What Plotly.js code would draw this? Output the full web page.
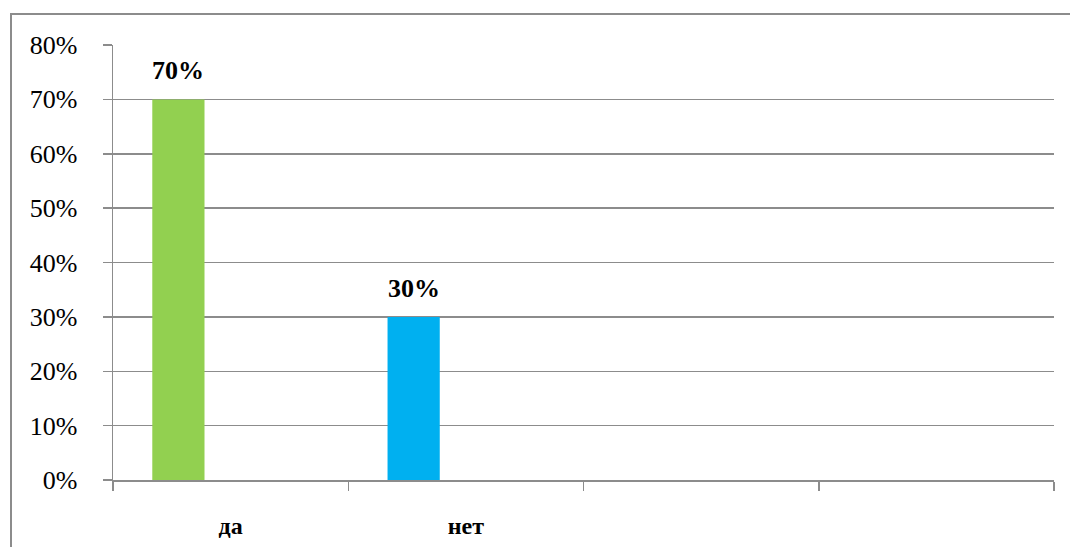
<!DOCTYPE html>
<html>
<head>
<meta charset="utf-8">
<script src="https://cdn.plot.ly/plotly-3.0.1.min.js"></script>
<style>
html,body{margin:0;padding:0;background:#fff;}
#chart{width:1070px;height:547px;}
</style>
</head>
<body>
<div id="chart"></div>
<script>
const categories = ["да", "нет", " ", "  "];
const barCategories = ["да", "нет"];
const values = [0.70, 0.30];
const barColors = ["#92D050", "#00B0F0"];
const yTickVals = [0, 0.1, 0.2, 0.3, 0.4, 0.5, 0.6, 0.7, 0.8];
const yTickText = ["0%", "10%", "20%", "30%", "40%", "50%", "60%", "70%", "80%"];

const fontFam = "'Liberation Serif', 'Times New Roman', serif";
const barOffset = -0.333;
const barWidth = 0.222;

const trace = {
  type: "bar",
  x: barCategories,
  y: values,
  marker: {color: barColors, line: {width: 0}},
  offset: barOffset,
  width: barWidth,
  hoverinfo: "skip"
};

// Invisible trace to register all categories
const dummy = {
  type: "scatter",
  x: categories,
  y: categories.map(() => null),
  mode: "markers",
  showlegend: false,
  hoverinfo: "skip"
};

const annotations = barCategories.map((c, i) => ({
  x: c,
  y: values[i],
  xref: "x",
  yref: "y",
  text: "<b>" + Math.round(values[i] * 100) + "%</b>",
  showarrow: false,
  xshift: (barOffset + barWidth / 2) * 235.25,
  yanchor: "bottom",
  yshift: 12,
  font: {family: fontFam, size: 26, color: "#000"}
}));

const layout = {
  width: 1070,
  height: 547,
  margin: {l: 113, r: 16, t: 45, b: 67},
  paper_bgcolor: "#fff",
  plot_bgcolor: "#fff",
  showlegend: false,
  font: {family: fontFam, color: "#000"},
  xaxis: {
    type: "category",
    categoryorder: "array",
    categoryarray: categories,
    range: [-0.5, 3.5],
    tickson: "boundaries",
    ticks: "outside",
    ticklen: 9,
    tickwidth: 1.5,
    tickcolor: "#8c8c8c",
    showgrid: false,
    showline: true,
    linecolor: "#8c8c8c",
    linewidth: 1.5,
    zeroline: false,
    tickfont: {family: fontFam, size: 24, color: "#000", weight: "bold"},
    ticklabelstandoff: 24,
    fixedrange: true
  },
  yaxis: {
    range: [0, 0.8],
    tickvals: yTickVals,
    ticktext: yTickText,
    ticks: "outside",
    ticklen: 9,
    tickwidth: 1.5,
    tickcolor: "#8c8c8c",
    showgrid: true,
    gridcolor: "#8c8c8c",
    gridwidth: 1.5,
    showline: true,
    linecolor: "#8c8c8c",
    linewidth: 1.5,
    zeroline: false,
    tickfont: {family: fontFam, size: 26, color: "#000"},
    ticklabelstandoff: 20,
    fixedrange: true
  },
  annotations: annotations,
  shapes: [{
    type: "rect",
    xref: "paper",
    yref: "paper",
    x0: (11 - 113) / 941,
    x1: 1.1,
    y0: -0.3,
    y1: (480 - 14) / 435,
    line: {color: "#8c8c8c", width: 2},
    fillcolor: "rgba(0,0,0,0)",
    layer: "below"
  }]
};

Plotly.newPlot("chart", [trace, dummy], layout, {displayModeBar: false, staticPlot: true});
</script>
</body>
</html>
